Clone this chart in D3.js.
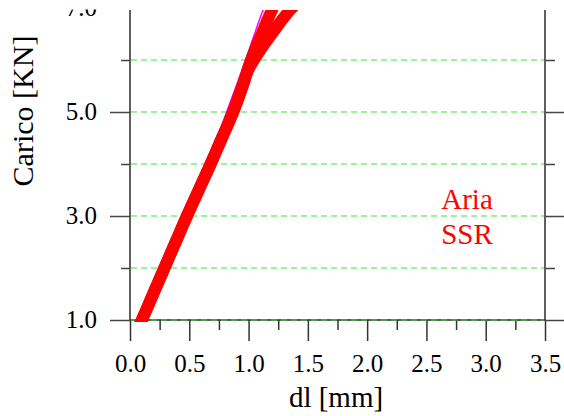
<!DOCTYPE html>
<html>
<head>
<meta charset="utf-8">
<script src="https://cdn.jsdelivr.net/npm/d3@7"></script>
<style>
  body { margin: 0; background: #fff; }
  svg text { font-family: "Liberation Serif", "Times New Roman", "DejaVu Serif", serif !important; }
</style>
</head>
<body>
<div id="container"></div>
<script>
/* CONSTANTS AND GLOBALS */
const width = 564,
  height = 416,
  margin = { top: 8, bottom: 96, left: 130, right: 19 };

/* DATA */
const xMajor = [0, 0.5, 1.0, 1.5, 2.0, 2.5, 3.0, 3.5]
const xMinor = [0.25, 0.75, 1.25, 1.75, 2.25, 2.75, 3.25]
const yMajor = [1, 3, 5, 7]
const yMinor = [2, 4, 6]
const gridLoads = [1, 2, 3, 4, 5, 6, 7]

// Aria (left branch at top)
const ariaDl = [0.07, 0.10, 0.195, 0.29, 0.385, 0.48, 0.58, 0.68, 0.775, 0.87, 0.95, 1.02, 1.11, 1.205, 1.25]
const ariaLoad = [0.85, 1.0, 1.5, 2.0, 2.5, 3.0, 3.5, 4.0, 4.5, 5.0, 5.5, 6.0, 6.5, 7.0, 7.2]
// SSR (right branch at top)
const ssrDl = [0.07, 0.10, 0.195, 0.29, 0.385, 0.48, 0.58, 0.68, 0.775, 0.87, 0.95, 0.995, 1.045, 1.115, 1.195, 1.275, 1.365, 1.41]
const ssrLoad = [0.85, 1.0, 1.5, 2.0, 2.5, 3.0, 3.5, 4.0, 4.5, 5.0, 5.5, 5.8, 6.0, 6.25, 6.5, 6.75, 7.0, 7.1]
// thin magenta curve
const fitDl = [0.66, 0.815, 0.975, 1.05, 1.13, 1.17]
const fitLoad = [4.0, 5.0, 6.0, 6.5, 7.0, 7.2]

const legendLabels = ["Aria", "SSR"]

/* SCALES */
const xScale = d3.scaleLinear()
  .domain([0, 3.5])
  .range([margin.left, width - margin.right])

const yScale = d3.scaleLinear()
  .domain([1, 7])
  .range([height - margin.bottom, margin.top])

/* HTML ELEMENTS */
const svg = d3.select("#container")
  .append("svg")
  .attr("width", width)
  .attr("height", height)
  .attr("font-family", '"Liberation Serif", "Times New Roman", serif')

// whole chart is cut off at the top edge of the picture
svg.append("clipPath").attr("id", "page")
  .append("rect").attr("x", 0).attr("y", 9.5).attr("width", width).attr("height", height)

svg.append("clipPath").attr("id", "plot")
  .append("rect")
  .attr("x", xScale(0)).attr("y", 10)
  .attr("width", xScale(3.5) - xScale(0))
  .attr("height", yScale(1) + 2 - 10)

const g = svg.append("g").attr("clip-path", "url(#page)")

// plot frame
g.append("line")
  .attr("x1", xScale(0)).attr("x2", xScale(0))
  .attr("y1", 10).attr("y2", yScale(1))
  .attr("stroke", "#606060").attr("stroke-width", 2)

g.append("line")
  .attr("x1", xScale(3.5)).attr("x2", xScale(3.5))
  .attr("y1", 10).attr("y2", yScale(1))
  .attr("stroke", "#606060").attr("stroke-width", 2)

g.append("line")
  .attr("x1", xScale(0)).attr("x2", xScale(3.5))
  .attr("y1", yScale(1)).attr("y2", yScale(1))
  .attr("stroke", "#222").attr("stroke-width", 1.5)

// axes with d3 (ticks only, domain hidden)
const xAxisMajor = d3.axisBottom(xScale).tickValues(xMajor).tickSize(21).tickFormat(d3.format(".1f")).tickPadding(13)
const xAxisMinor = d3.axisBottom(xScale).tickValues(xMinor).tickSize(10).tickFormat("")
const yAxisMajor = d3.axisLeft(yScale).tickValues(yMajor).tickSize(20).tickFormat(d3.format(".1f")).tickPadding(13)
const yAxisMinor = d3.axisLeft(yScale).tickValues(yMinor).tickSize(9).tickFormat("")
const yRightMajor = d3.axisRight(yScale).tickValues(yMajor).tickSize(20).tickFormat("")
const yRightMinor = d3.axisRight(yScale).tickValues(yMinor).tickSize(10).tickFormat("")

function styleAxis(sel, color) {
  sel.attr("font-family", '"Liberation Serif", "Times New Roman", serif').attr("font-size", 25)
  sel.select(".domain").remove()
  sel.selectAll(".tick line").attr("stroke", color).attr("stroke-width", 1.5)
  sel.selectAll(".tick text").attr("fill", "#000")
}

g.append("g")
  .attr("transform", `translate(0,${yScale(1)})`)
  .call(xAxisMajor)
  .call(sel => styleAxis(sel, "#333"))
  .selectAll(".tick text").attr("dy", "0.71em")

g.append("g")
  .attr("transform", `translate(0,${yScale(1)})`)
  .call(xAxisMinor)
  .call(sel => styleAxis(sel, "#333"))

g.append("g")
  .attr("transform", `translate(${xScale(0)},0)`)
  .call(yAxisMajor)
  .call(sel => styleAxis(sel, "#444"))
  .selectAll(".tick text").attr("dy", "0.28em")

g.append("g")
  .attr("transform", `translate(${xScale(0)},0)`)
  .call(yAxisMinor)
  .call(sel => styleAxis(sel, "#444"))

g.append("g")
  .attr("transform", `translate(${xScale(3.5)},0)`)
  .call(yRightMajor)
  .call(sel => styleAxis(sel, "#444"))

g.append("g")
  .attr("transform", `translate(${xScale(3.5)},0)`)
  .call(yRightMinor)
  .call(sel => styleAxis(sel, "#444"))

// green dashed grid
g.selectAll("line.grid")
  .data(gridLoads)
  .join("line")
  .attr("class", "grid")
  .attr("x1", xScale(0) + 1).attr("x2", xScale(3.5) - 1)
  .attr("y1", d => yScale(d)).attr("y2", d => yScale(d))
  .attr("stroke", "#33ee33")
  .attr("stroke-width", 1.2)
  .attr("stroke-dasharray", "6,4")

// curves
const plot = g.append("g").attr("clip-path", "url(#plot)")

const line = d3.line()
  .x(d => xScale(d[0]))
  .y(d => yScale(d[1]))
  .curve(d3.curveMonotoneY)

plot.append("path")
  .datum(d3.zip(fitDl, fitLoad))
  .attr("d", line)
  .attr("fill", "none")
  .attr("stroke", "#ff00ff")
  .attr("stroke-width", 1.5)

const series = [d3.zip(ariaDl, ariaLoad), d3.zip(ssrDl, ssrLoad)]

plot.selectAll("path.series")
  .data(series)
  .join("path")
  .attr("class", "series")
  .attr("d", line)
  .attr("fill", "none")
  .attr("stroke", "#ff0000")
  .attr("stroke-width", 12)
  .attr("stroke-linejoin", "round")

// legend
svg.selectAll("text.legend")
  .data(legendLabels)
  .join("text")
  .attr("class", "legend")
  .attr("x", 467)
  .attr("y", (d, i) => 209 + i * 35)
  .attr("text-anchor", "middle")
  .attr("fill", "#ff0000")
  .attr("font-size", 29)
  .text(d => d)

// axis titles
svg.append("text")
  .attr("x", 336)
  .attr("y", 407)
  .attr("text-anchor", "middle")
  .attr("font-size", 29)
  .text("dl [mm]")

svg.append("text")
  .attr("transform", `translate(33,111) rotate(-90)`)
  .attr("text-anchor", "middle")
  .attr("font-size", 30)
  .text("Carico [KN]")
</script>
</body>
</html>
